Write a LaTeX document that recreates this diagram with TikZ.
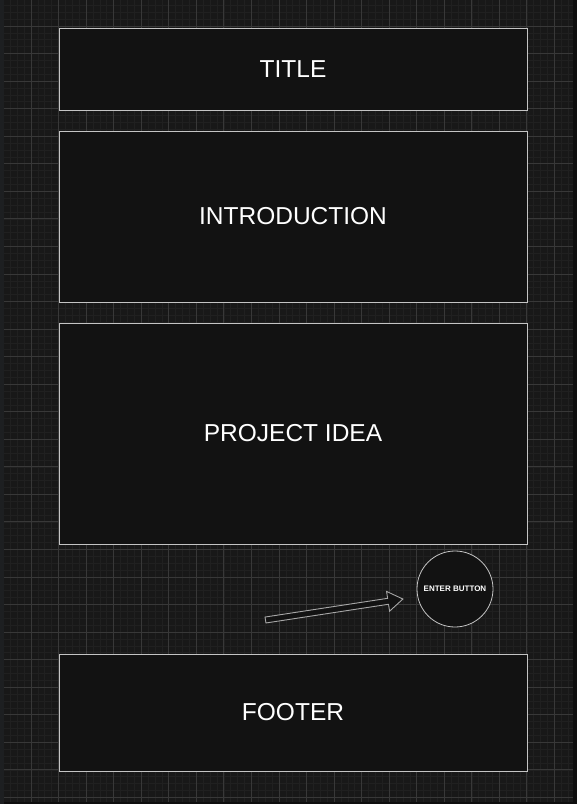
\documentclass[tikz,border=0pt]{standalone}
\usepackage{fontspec}
\setmainfont{Liberation Sans}
\definecolor{bgc}{HTML}{181818}
\definecolor{minorc}{HTML}{202020}
\definecolor{majorc}{HTML}{383838}
\definecolor{boxfill}{HTML}{121212}
\definecolor{boxline}{HTML}{C4C4C4}
\definecolor{leftstrip}{HTML}{1D1F21}
\definecolor{edgestrip}{HTML}{0E0E0E}
\begin{document}
\begin{tikzpicture}[x=1pt,y=-1pt,
  panel/.style={draw=boxline, line width=1pt, fill=boxfill, text=white,
    font=\fontsize{24.5}{28}\selectfont, minimum width=468pt, inner sep=0pt},
  btn/.style={circle, draw=boxline, line width=0.8pt, fill=boxfill, text=white,
    minimum size=76pt, inner sep=0pt, font=\fontsize{8}{9}\selectfont\bfseries},
  blockarrow/.style={draw=boxline!85!black, line width=0.9pt, fill=boxfill},
  minorline/.style={draw=minorc, line width=0.6pt},
  majorline/.style={draw=majorc, line width=0.9pt}]
\useasboundingbox (0,0) rectangle (577,804);
\fill[bgc] (0,0) rectangle (577,804);
\begin{scope}
\clip (4,0) rectangle (573,802);
\foreach \i in {-5,...,80} \draw[minorline] ({31+\i*6.8875},0) -- ({31+\i*6.8875},804);
\foreach \i in {-4,...,113} \draw[minorline] (0,{26+\i*6.8875}) -- (577,{26+\i*6.8875});
\foreach \i in {-2,...,20} \draw[majorline] ({31+\i*27.55},0) -- ({31+\i*27.55},804);
\foreach \i in {-1,...,28} \draw[majorline] (0,{26+\i*27.55}) -- (577,{26+\i*27.55});
\end{scope}
\fill[leftstrip] (0,0) rectangle (4,804);
\fill[edgestrip] (573,0) rectangle (577,804);
\fill[edgestrip] (4,802) rectangle (573,804);

\node[panel, minimum height=82pt] (title) at (293,69) {TITLE};
\node[panel, minimum height=171pt] (intro) at (293,216.5) {INTRODUCTION};
\node[panel, minimum height=221pt] (idea) at (293,433.5) {PROJECT IDEA};
\node[panel, minimum height=117pt] (footer) at (293,712.5) {FOOTER};
\node[btn] (enter) at (455,589) {ENTER BUTTON};

\draw[blockarrow, shift={(265.5,620)}, rotate=8.68]
  (0,-3) -- (124,-3) -- (124,-10) -- (139,0) -- (124,10) -- (124,3) -- (0,3) -- cycle;
\end{tikzpicture}
\end{document}
